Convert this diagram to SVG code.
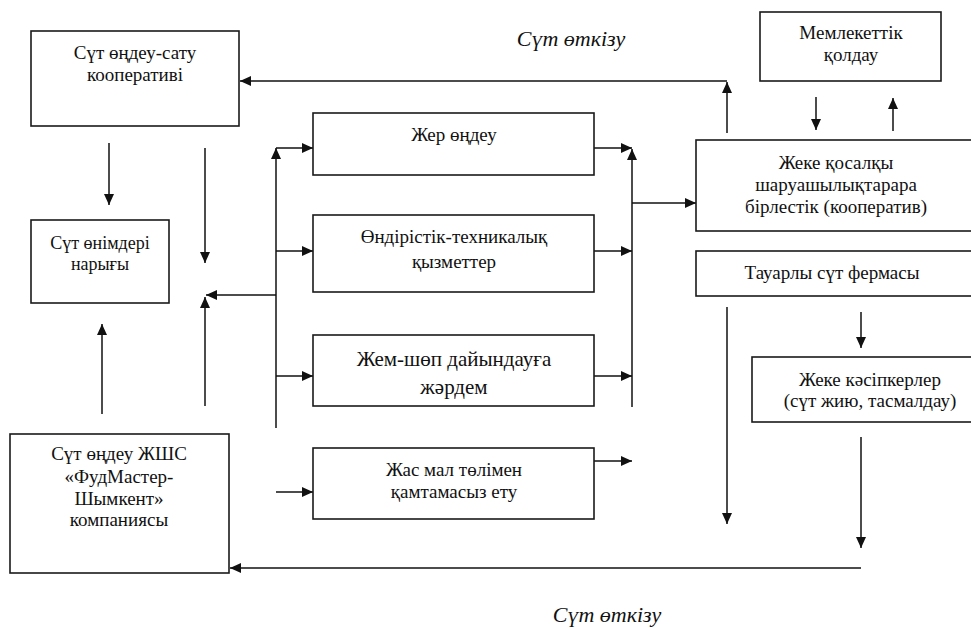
<svg xmlns="http://www.w3.org/2000/svg" width="971" height="629" viewBox="0 0 971 629">
<style>
.box{fill:#fff;stroke:#1a1a1a;stroke-width:1.6}
.c{fill:none;stroke:#111;stroke-width:1.5}
</style>
<defs>
<marker id="ah" markerUnits="userSpaceOnUse" markerWidth="11" markerHeight="10" refX="11" refY="5" orient="auto">
<path d="M0,0 L11,5 L0,10 z" fill="#111"/>
</marker>
</defs>
<g id="connectors">
<path class="c" marker-end="url(#ah)" d="M727,133 V82"/>
<path class="c" marker-end="url(#ah)" d="M727,81 H240"/>
<path class="c" marker-end="url(#ah)" d="M816,97 V130"/>
<path class="c" marker-end="url(#ah)" d="M893,131 V98"/>
<path class="c" marker-end="url(#ah)" d="M109,143 V205"/>
<path class="c" marker-end="url(#ah)" d="M205,148 V263"/>
<path class="c" marker-end="url(#ah)" d="M276,428 V148"/>
<path class="c" marker-end="url(#ah)" d="M276,148 H313"/>
<path class="c" marker-end="url(#ah)" d="M276,251 H313"/>
<path class="c" marker-end="url(#ah)" d="M276,376 H313"/>
<path class="c" marker-end="url(#ah)" d="M276,295 H206"/>
<path class="c" marker-end="url(#ah)" d="M205,406 V297"/>
<path class="c" marker-end="url(#ah)" d="M102,414 V324"/>
<path class="c" marker-end="url(#ah)" d="M276,492 H313"/>
<path class="c" marker-end="url(#ah)" d="M594,148 H632"/>
<path class="c" marker-end="url(#ah)" d="M594,251 H632"/>
<path class="c" marker-end="url(#ah)" d="M594,376 H632"/>
<path class="c" marker-end="url(#ah)" d="M594,461 H632"/>
<path class="c" marker-end="url(#ah)" d="M632,407 V149"/>
<path class="c" marker-end="url(#ah)" d="M632,203 H696"/>
<path class="c" marker-end="url(#ah)" d="M727,307 V524"/>
<path class="c" marker-end="url(#ah)" d="M861,312 V348"/>
<path class="c" marker-end="url(#ah)" d="M861,437 V548"/>
<path class="c" marker-end="url(#ah)" d="M861,568 H230"/>
</g>
<g font-family="'Liberation Serif', 'DejaVu Serif', serif" text-anchor="middle" fill="#111">
<g id="label-top"><text x="571" y="46" font-size="22" font-style="italic">Сүт өткізу</text></g>
<g id="label-bottom"><text x="607" y="622" font-size="22" font-style="italic">Сүт өткізу</text></g>
<g id="coop">
<rect class="box" x="31" y="31" width="208" height="95"/>
<text x="135" y="59" font-size="19">Сүт өңдеу-сату</text>
<text x="135" y="81" font-size="19">кооперативі</text>
</g>
<g id="market">
<rect class="box" x="31" y="220" width="138" height="83"/>
<text x="100" y="249" font-size="18">Сүт өнімдері</text>
<text x="100" y="270" font-size="18">нарығы</text>
</g>
<g id="llp">
<rect class="box" x="10" y="434" width="219" height="139"/>
<text x="119" y="460" font-size="19">Сүт өңдеу ЖШС</text>
<text x="119" y="483" font-size="19">«ФудМастер-</text>
<text x="119" y="505" font-size="19">Шымкент»</text>
<text x="119" y="526" font-size="19">компаниясы</text>
</g>
<g id="zher">
<rect class="box" x="313" y="113" width="281" height="62"/>
<text x="454" y="141" font-size="19">Жер өңдеу</text>
</g>
<g id="ondiris">
<rect class="box" x="313" y="215" width="281" height="77"/>
<text x="454" y="243" font-size="19">Өндірістік-техникалық</text>
<text x="454" y="268" font-size="19">қызметтер</text>
</g>
<g id="zhem">
<rect class="box" x="313" y="335" width="281" height="71"/>
<text x="454" y="366" font-size="21">Жем-шөп дайындауға</text>
<text x="454" y="394" font-size="21">жәрдем</text>
</g>
<g id="zhas">
<rect class="box" x="313" y="448" width="281" height="71"/>
<text x="454" y="476" font-size="19">Жас мал төлімен</text>
<text x="454" y="498" font-size="19">қамтамасыз ету</text>
</g>
<g id="memleket">
<rect class="box" x="760" y="12" width="181" height="69"/>
<text x="851" y="39" font-size="19">Мемлекеттік</text>
<text x="851" y="61" font-size="19">қолдау</text>
</g>
<g id="zheke">
<rect class="box" x="696" y="140" width="280" height="91"/>
<text x="836" y="169" font-size="19">Жеке  қосалқы</text>
<text x="836" y="191" font-size="19">шаруашылықтарара</text>
<text x="836" y="213" font-size="19">бірлестік (кооператив)</text>
</g>
<g id="tauarly">
<rect class="box" x="696" y="251" width="280" height="45"/>
<text x="832" y="279" font-size="19">Тауарлы сүт фермасы</text>
</g>
<g id="kasipker">
<rect class="box" x="752" y="357" width="224" height="65"/>
<text x="870" y="386" font-size="19">Жеке кәсіпкерлер</text>
<text x="870" y="407" font-size="19">(сүт жию, тасмалдау)</text>
</g>
</g>
</svg>
